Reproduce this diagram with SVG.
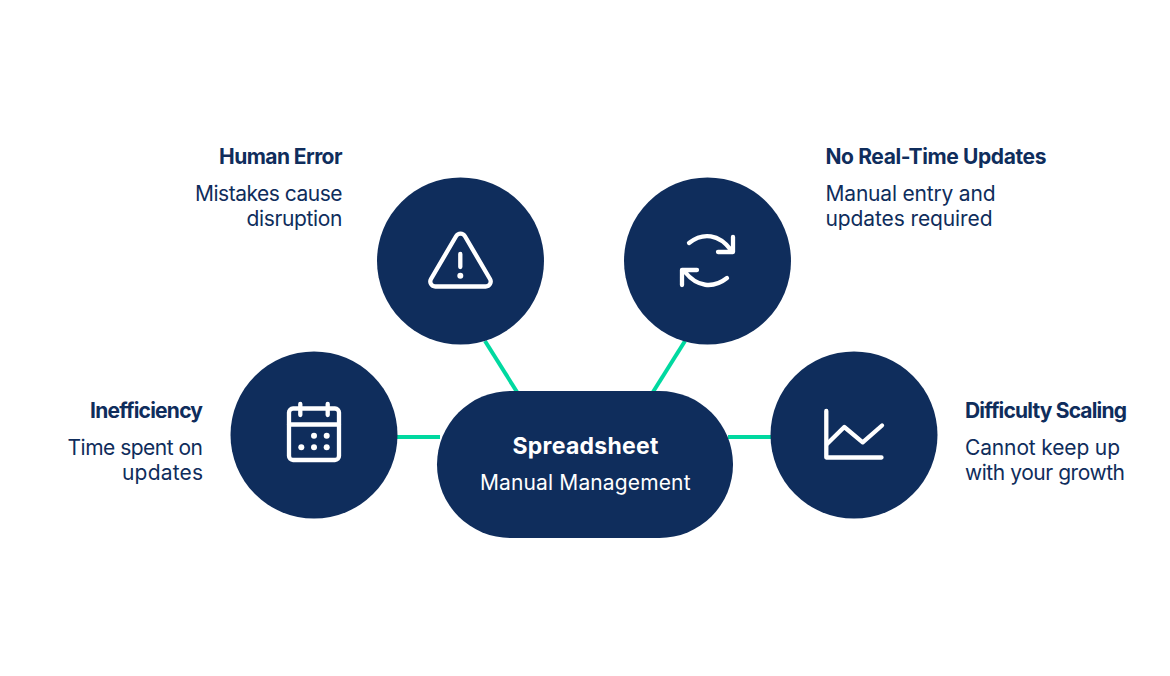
<svg xmlns="http://www.w3.org/2000/svg" width="1170" height="676" viewBox="0 0 1170 676">
<style>
.n{fill:#0f2d5c}
.c{stroke:#00d9a0;stroke-width:4;fill:none}
.i{fill:none;stroke:#fff;stroke-width:4.300;stroke-linecap:round;stroke-linejoin:round}
.d{fill:#fff}
text{font-family:"Inter","Liberation Sans",sans-serif;fill:#0f2d5c;font-size:21px}
.t{font-weight:700}
.b{font-weight:400}
.w{fill:#fff}
</style>
<rect width="1170" height="676" fill="#fff"/>
<g id="connectors">
<path class="c" d="M397 437H440"/>
<path class="c" d="M728 437H772"/>
<path class="c" d="M485 341L517 392"/>
<path class="c" d="M685 341L653 392"/>
</g>
<g id="center">
<rect class="n" x="437" y="391" width="296" height="147" rx="73.500"/>
<text class="t w" x="512.500" y="453.500" style="font-size:23px" textLength="146" lengthAdjust="spacing">Spreadsheet</text>
<text class="b w" x="480" y="489.500" textLength="210.500" lengthAdjust="spacing">Manual Management</text>
</g>
<g id="human-error">
<circle class="n" cx="460.500" cy="261" r="83.500"/>
<path class="i" d="M456.200 236a5 5 0 0 1 8.600 0L490 279a5 5 0 0 1-4.300 7.500H435.300a5 5 0 0 1-4.300-7.500Z"/>
<path class="i" d="M460.300 254V267"/>
<circle class="d" cx="460.300" cy="275.700" r="3"/>
<text class="t" x="219" y="163.500" textLength="123.500" lengthAdjust="spacing">Human Error</text>
<text class="b" x="195" y="200.500" textLength="147.500" lengthAdjust="spacing">Mistakes cause</text>
<text class="b" x="246.500" y="225.500" textLength="96" lengthAdjust="spacing">disruption</text>
</g>
<g id="no-real-time-updates">
<circle class="n" cx="707.500" cy="261" r="83.500"/>
<path class="i" d="M689 243C703 232 719 234 731 250M733 237V252H718"/>
<path class="i" d="M727 278C713 289 697 287 685 272M682 285V270H697"/>
<text class="t" x="825.500" y="163.500" textLength="221" lengthAdjust="spacing">No Real-Time Updates</text>
<text class="b" x="825.500" y="200.500" textLength="170" lengthAdjust="spacing">Manual entry and</text>
<text class="b" x="825.500" y="225.500" textLength="167" lengthAdjust="spacing">updates required</text>
</g>
<g id="inefficiency">
<circle class="n" cx="314" cy="435" r="83.500"/>
<rect class="i" x="289" y="408.500" width="50" height="51.500" rx="4"/>
<path class="i" d="M289 424.500H339M300.300 404V415M327.700 404V415"/>
<g class="d"><circle cx="314" cy="435.700" r="3"/><circle cx="326.700" cy="435.700" r="3"/><circle cx="301.300" cy="447.300" r="3"/><circle cx="314" cy="447.300" r="3"/><circle cx="326.700" cy="447.300" r="3"/></g>
<text class="t" x="90" y="417.500" textLength="113" lengthAdjust="spacing">Inefficiency</text>
<text class="b" x="67.500" y="454.500" textLength="135.500" lengthAdjust="spacing">Time spent on</text>
<text class="b" x="122" y="479.500" textLength="81" lengthAdjust="spacing">updates</text>
</g>
<g id="difficulty-scaling">
<circle class="n" cx="854" cy="435" r="83.500"/>
<path class="i" d="M826.300 411V457.500H881.500"/>
<path class="i" d="M827 444L844.300 427L862.700 442.300L882 425.500"/>
<text class="t" x="965" y="417.500" textLength="162" lengthAdjust="spacing">Difficulty Scaling</text>
<text class="b" x="965" y="454.500" textLength="155" lengthAdjust="spacing">Cannot keep up</text>
<text class="b" x="965" y="479.500" textLength="160" lengthAdjust="spacing">with your growth</text>
</g>
</svg>
